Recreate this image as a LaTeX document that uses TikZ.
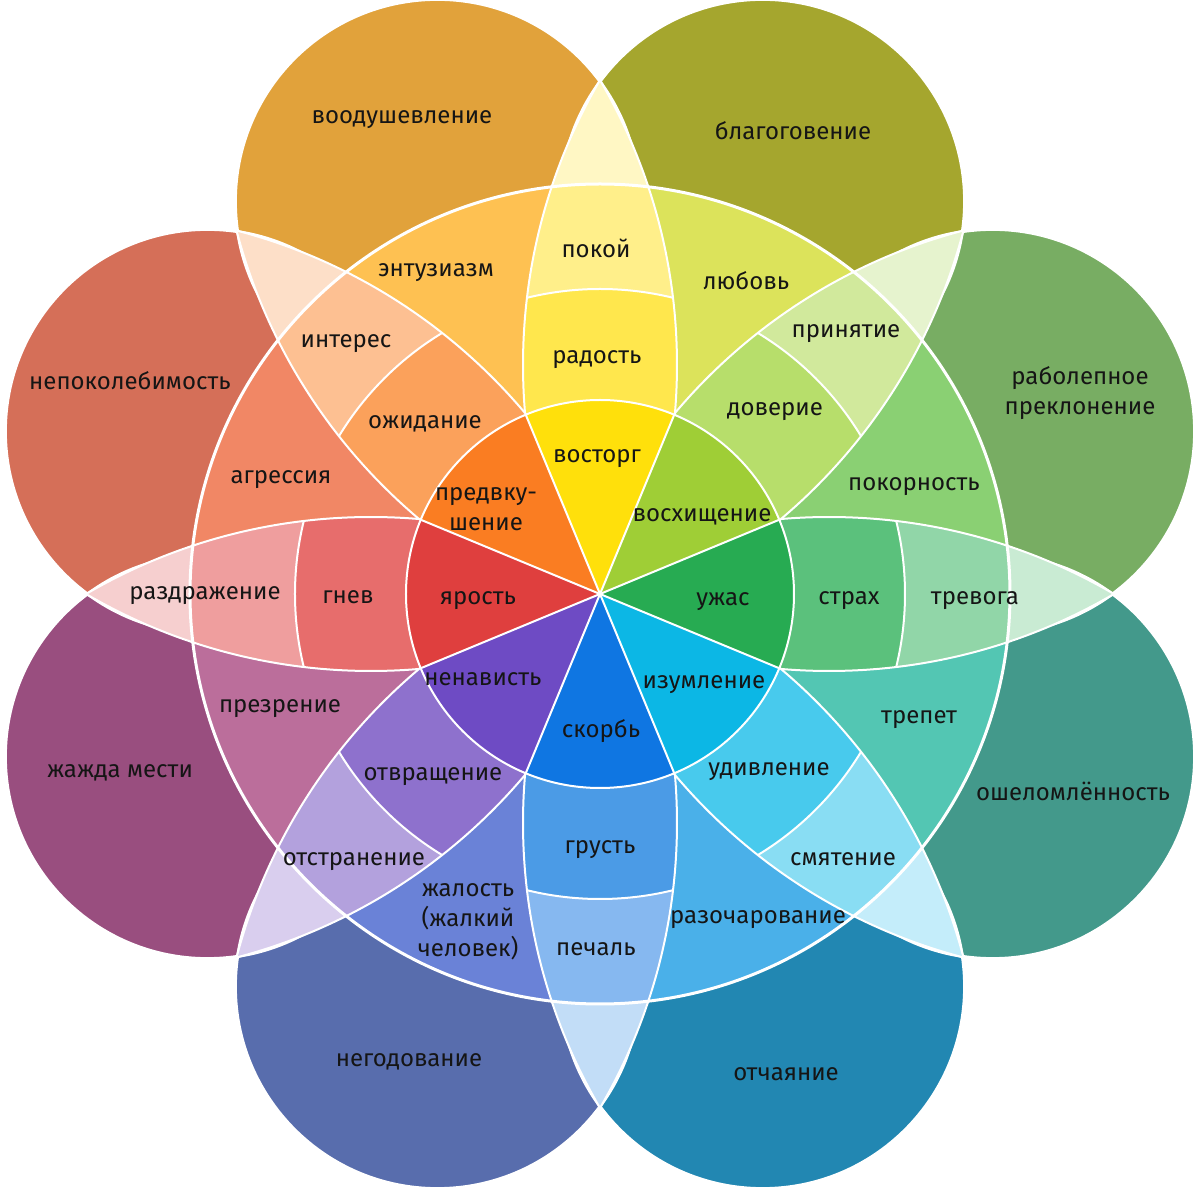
\documentclass[tikz,border=0pt]{standalone}
\usepackage{fontspec}
\setmainfont{Fira Sans}
% big outer circles
\definecolor{bA}{HTML}{78AD63}
\definecolor{bB}{HTML}{A5A62E}
\definecolor{bC}{HTML}{E1A23B}
\definecolor{bD}{HTML}{D56F58}
\definecolor{bE}{HTML}{994E7F}
\definecolor{bF}{HTML}{586DAD}
\definecolor{bG}{HTML}{2287B2}
\definecolor{bH}{HTML}{43998B}
% dyad wedges
\definecolor{dA}{HTML}{8AD073}
\definecolor{dB}{HTML}{DCE35B}
\definecolor{dC}{HTML}{FEC152}
\definecolor{dD}{HTML}{F18765}
\definecolor{dE}{HTML}{BB6E9B}
\definecolor{dF}{HTML}{6A82D7}
\definecolor{dG}{HTML}{4AB0E9}
\definecolor{dH}{HTML}{53C6B3}
% petals: core / mid / outer / tip
\definecolor{gC}{HTML}{27AB52}\definecolor{gM}{HTML}{5BC17C}\definecolor{gO}{HTML}{91D6A8}\definecolor{gT}{HTML}{C9EBD3}
\definecolor{lC}{HTML}{9FCE36}\definecolor{lM}{HTML}{B7DE6B}\definecolor{lO}{HTML}{D1E99C}\definecolor{lT}{HTML}{E6F3CE}
\definecolor{yC}{HTML}{FFE00B}\definecolor{yM}{HTML}{FFE74D}\definecolor{yO}{HTML}{FFEF8A}\definecolor{yT}{HTML}{FFF7C4}
\definecolor{oC}{HTML}{FA7D22}\definecolor{oM}{HTML}{FBA15B}\definecolor{oO}{HTML}{FDC092}\definecolor{oT}{HTML}{FDDFC8}
\definecolor{rC}{HTML}{DF3F3E}\definecolor{rM}{HTML}{E76D6C}\definecolor{rO}{HTML}{EF9E9E}\definecolor{rT}{HTML}{F6CFCF}
\definecolor{pC}{HTML}{6E4BC4}\definecolor{pM}{HTML}{8E71CD}\definecolor{pO}{HTML}{B3A1DD}\definecolor{pT}{HTML}{D9CEEE}
\definecolor{sC}{HTML}{0F76E2}\definecolor{sM}{HTML}{4B9BE6}\definecolor{sO}{HTML}{86B8F0}\definecolor{sT}{HTML}{C2DDF7}
\definecolor{cC}{HTML}{0CB7E5}\definecolor{cM}{HTML}{48CAED}\definecolor{cO}{HTML}{89DDF3}\definecolor{cT}{HTML}{C4EDFA}
\definecolor{ink}{HTML}{151515}
\begin{document}
\begin{tikzpicture}[x=0.5pt,y=0.5pt,
  wl/.style={white,line width=1pt},
  wlt/.style={white,line width=1.5pt},
  lbl/.style={font=\fontsize{12}{15}\selectfont,text=ink,align=center,inner sep=0pt}]
\useasboundingbox (-600,-594) rectangle (600,594);
\fill[white] (-600,-594) rectangle (600,594);
% big circles
\foreach \a/\bc in {22.5/bA,67.5/bB,112.5/bC,157.5/bD,202.5/bE,247.5/bF,292.5/bG,337.5/bH}{
  \fill[\bc] (\a:425) circle (202);
}
\foreach \a in {22.5,67.5,112.5,157.5,202.5,247.5,292.5,337.5}{
  \draw[wlt] (\a:425) circle (202);
}
% dyad wedges
\foreach \a/\dc in {22.5/dA,67.5/dB,112.5/dC,157.5/dD,202.5/dE,247.5/dF,292.5/dG,337.5/dH}{
  \pgfmathsetmacro\angS{\a-22.5}
  \pgfmathsetmacro\angE{\a+22.5}
  \fill[\dc] (0,0) -- (\angS:410) arc[start angle=\angS,end angle=\angE,radius=410] -- cycle;
}
% petals
\foreach \a/\cc/\cm/\co/\ct in {0/gC/gM/gO/gT,45/lC/lM/lO/lT,90/yC/yM/yO/yT,135/oC/oM/oO/oT,180/rC/rM/rO/rT,225/pC/pM/pO/pT,270/sC/sM/sO/sT,315/cC/cM/cO/cT}{
  \pgfmathsetmacro\angP{\a+64.86}
  \pgfmathsetmacro\angQ{\a-64.86}
  \begin{scope}
    \clip (\angP:539.1) circle (565);
    \clip (\angQ:539.1) circle (565);
    \fill[\ct] (0,0) circle (530);
    \fill[\co] (0,0) circle (410);
    \fill[\cm] (0,0) circle (305);
    \draw[wl] (0,0) circle (305);
  \end{scope}
  \begin{scope}
    \clip (\angP:539.1) circle (565);
    \draw[wl] (\angQ:539.1) circle (565);
  \end{scope}
  \begin{scope}
    \clip (\angQ:539.1) circle (565);
    \draw[wl] (\angP:539.1) circle (565);
  \end{scope}
}
\draw[wlt] (0,0) circle (410);
% core
\foreach \a/\cc in {0/gC,45/lC,90/yC,135/oC,180/rC,225/pC,270/sC,315/cC}{
  \pgfmathsetmacro\angS{\a-22.5}
  \pgfmathsetmacro\angE{\a+22.5}
  \fill[\cc] (0,0) -- (\angS:194) arc[start angle=\angS,end angle=\angE,radius=194] -- cycle;
}
\draw[wl] (0,0) circle (194);
\foreach \a in {22.5,67.5,112.5,157.5,202.5,247.5,292.5,337.5}{
  \draw[wl] (0,0) -- (\a:194);
}
\begin{scope}[yshift=-2pt]
% labels: big circles
\node[lbl] (tA) at (-198,478) {воодушевление};
\node[lbl] (tB) at (193,467) {благоговение};
\node[lbl] (tC) at (480,205) {раболепное\\преклонение};
\node[lbl] (tD) at (473,-193) {ошеломлённость};
\node[lbl] (tE) at (186,-476) {отчаяние};
\node[lbl] (tF) at (-191,-464) {негодование};
\node[lbl] (tG) at (-480,-175) {жажда мести};
\node[lbl] (tH) at (-470,217) {непоколебимость};
% labels: dyads
\node[lbl] (dyA) at (-164,325) {энтузиазм};
\node[lbl] (dyB) at (146,317) {любовь};
\node[lbl] (dyC) at (314,111) {покорность};
\node[lbl] (dyD) at (319,-122) {трепет};
\node[lbl] (dyE) at (158,-322) {разочарование};
\node[lbl] (dyF) at (-132,-324) {жалость\\(жалкий\\человек)};
\node[lbl] (dyG) at (-320,-111) {презрение};
\node[lbl] (dyH) at (-319,118) {агрессия};
% labels: petals
\node[lbl] (y1) at (-3,139) {восторг};
\node[lbl] (y2) at (-3,238) {радость};
\node[lbl] (y3) at (-4,350) {покой};
\node[lbl] (o1) at (-114,89) {предвку-\\шение};
\node[lbl] (o2) at (-175,174) {ожидание};
\node[lbl] (o3) at (-254,254) {интерес};
\node[lbl] (r1) at (-122,-3) {ярость};
\node[lbl] (r2) at (-252,1) {гнев};
\node[lbl] (r3) at (-395,2) {раздражение};
\node[lbl] (p1) at (-117,-81) {ненависть};
\node[lbl] (p2) at (-167,-179) {отвращение};
\node[lbl] (p3) at (-246,-264) {отстранение};
\node[lbl] (s1) at (1,-133) {скорбь};
\node[lbl] (s2) at (0,-252) {грусть};
\node[lbl] (s3) at (-4,-351) {печаль};
\node[lbl] (c1) at (104,-87) {изумление};
\node[lbl] (c2) at (169,-174) {удивление};
\node[lbl] (c3) at (243,-261) {смятение};
\node[lbl] (g1) at (123,-4) {ужас};
\node[lbl] (g2) at (249,-3) {страх};
\node[lbl] (g3) at (375,-3) {тревога};
\node[lbl] (l1) at (102,81) {восхищение};
\node[lbl] (l2) at (175,186) {доверие};
\node[lbl] (l3) at (246,264) {принятие};
\end{scope}
\end{tikzpicture}
\end{document}
